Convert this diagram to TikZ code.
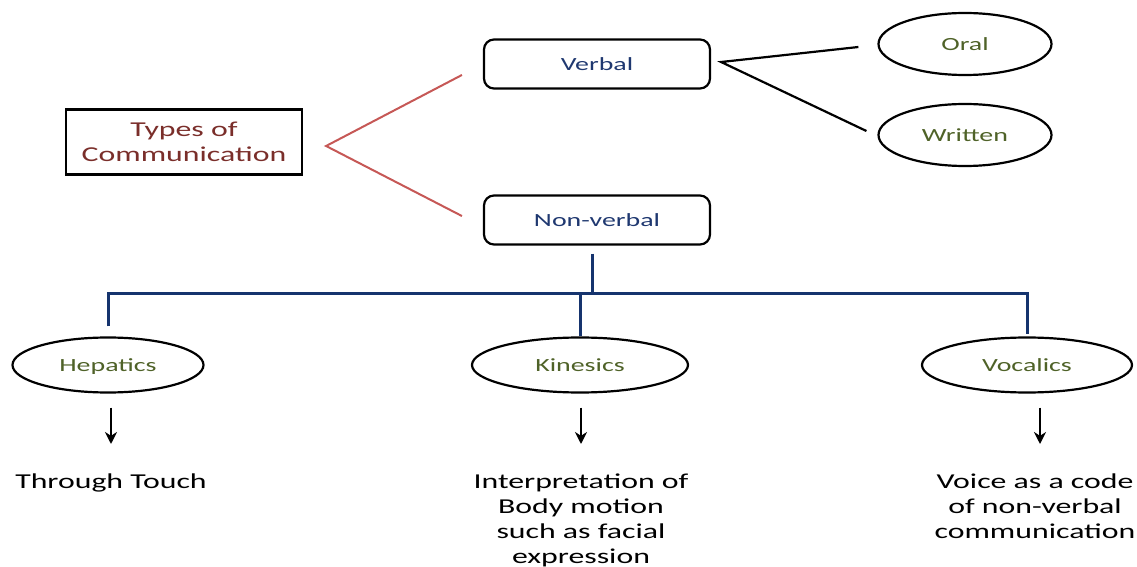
\documentclass[tikz,border=0pt]{standalone}
\usepackage{fontspec}
\setmainfont{Carlito}[FakeStretch=1.5]
\usetikzlibrary{shapes.geometric, arrows.meta, positioning, calc}
\definecolor{typered}{RGB}{122,46,42}
\definecolor{linered}{RGB}{198,88,86}
\definecolor{navytext}{RGB}{31,56,112}
\definecolor{olivetext}{RGB}{79,98,40}
\definecolor{treeblue}{RGB}{22,52,110}
\tikzset{
    rootbox/.style={rectangle, draw, line width=1.1pt, minimum width=118pt, minimum height=32.5pt, align=center, text=typered, font=\fontsize{10.6}{12.5}\selectfont},
    block/.style={rectangle, draw, line width=1.1pt, rounded corners=5pt, minimum width=113pt, minimum height=24.5pt, text=navytext, font=\fontsize{9.3}{11}\selectfont},
    oval/.style={ellipse, draw, line width=1.1pt, inner sep=0pt, text depth=0pt, text=olivetext, font=\fontsize{9.3}{11}\selectfont},
    desc/.style={anchor=north, align=center, inner sep=0pt, font=\fontsize{10.6}{12.5}\selectfont},
    redline/.style={linered, line width=1pt},
    blackline/.style={line width=1.1pt},
    tree/.style={treeblue, line width=1.5pt},
    arrow/.style={-{Stealth[length=6pt, width=6pt]}, line width=1.2pt},
}
\begin{document}
\begin{tikzpicture}[x=0.5pt, y=-0.5pt]
    \useasboundingbox (0,0) rectangle (1137,567);

    % Root and first split
    \node[rootbox] (types) at (184,142) {Types of\\Communication};
    \node[block] (verbal) at (597,64) {Verbal};
    \node[block] (nonverbal) at (597,220) {Non-verbal};

    \coordinate (rfork) at ([xshift=11.5pt, yshift=-2pt]types.east);
    \draw[redline] ([shift={(-10.5pt,-5.5pt)}]verbal.west) -- (rfork) -- ([shift={(-10.5pt,2pt)}]nonverbal.west);

    % Verbal branch
    \node[oval, minimum width=86.5pt, minimum height=31pt] (oral) at (965,44) {Oral};
    \node[oval, minimum width=86.5pt, minimum height=31pt] (written) at (965,135) {Written};

    \coordinate (vfork) at ([xshift=5pt, yshift=1pt]verbal.east);
    \draw[blackline] ([shift={(-9.5pt,-1.5pt)}]oral.west) -- (vfork) -- ([shift={(-5.5pt,2pt)}]written.west);

    % Non-verbal branch
    \node[oval, minimum width=95.5pt, minimum height=27.5pt] (hepatics) at (108,365) {Hepatics};
    \node[oval, minimum width=108pt, minimum height=27.5pt] (kinesics) at (580,365) {Kinesics};
    \node[oval, minimum width=105pt, minimum height=27.5pt] (vocalics) at (1027,365) {Vocalics};

    \coordinate (bar) at ([xshift=-2.5pt, yshift=-24pt]nonverbal.south);
    \draw[tree] ([yshift=-4pt]nonverbal.south -| bar) -- (bar);
    \draw[tree] ([yshift=5pt]hepatics.north) |- (bar) -| ([yshift=1pt]vocalics.north);
    \draw[tree] (bar -| kinesics.north) -- (kinesics.north);

    % Descriptions
    \node[desc] (touch) at (111,473) {Through Touch};
    \node[desc] (motion) at (581,473) {Interpretation of\\Body motion\\such as facial\\expression};
    \node[desc] (voice) at (1035,473) {Voice as a code\\of non-verbal\\communication};

    \draw[arrow, shorten <=7pt, shorten >=14.5pt] (touch.north |- hepatics.south) -- (touch.north);
    \draw[arrow, shorten <=7pt, shorten >=14.5pt] (motion.north |- kinesics.south) -- (motion.north);
    \draw[arrow, shorten <=7pt, shorten >=14.5pt] ([xshift=2.5pt]voice.north |- vocalics.south) -- ([xshift=2.5pt]voice.north);
\end{tikzpicture}
\end{document}
